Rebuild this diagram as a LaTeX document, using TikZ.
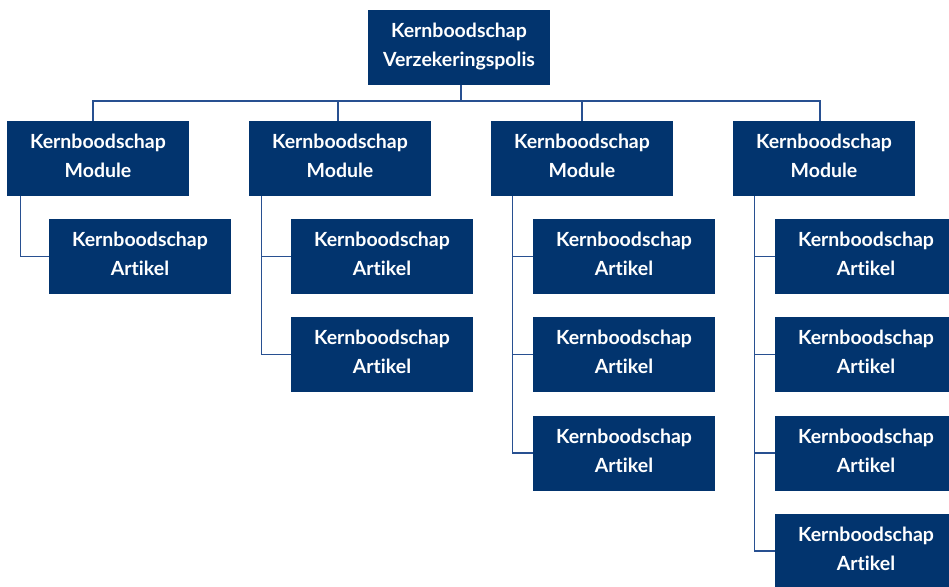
\documentclass[tikz,border=0pt]{standalone}
\usepackage{fontspec}
\setmainfont[Ligatures=NoCommon]{Lato}
\usetikzlibrary{calc}
\definecolor{boxblue}{RGB}{2,52,110}
\definecolor{lineblue}{RGB}{40,80,145}
\begin{document}
\begin{tikzpicture}[x=1pt,y=-1pt,
  box/.style={fill=boxblue,text=white,minimum width=182pt,minimum height=75pt,inner sep=0pt,
    align=center,font=\fontsize{19.5}{29}\selectfont\bfseries,
    execute at end node={\rule[-5pt]{0pt}{0pt}}},
  conn/.style={draw=lineblue,line width=1.1pt}]
\useasboundingbox (0,0) rectangle (949,586);
\node[box] (top) at (459,47.5) {Kernboodschap\\Verzekeringspolis};
\foreach \i/\x in {1/98,2/340,3/582,4/824}{
  \node[box] (m\i) at (\x,158.5) {Kernboodschap\\Module};
}
\node[box] (a11) at (140,256.5) {Kernboodschap\\Artikel};
\node[box] (a21) at (382,256.5) {Kernboodschap\\Artikel};
\node[box] (a22) at (382,354.5) {Kernboodschap\\Artikel};
\node[box] (a31) at (624,256.5) {Kernboodschap\\Artikel};
\node[box] (a32) at (624,354.5) {Kernboodschap\\Artikel};
\node[box] (a33) at (624,453) {Kernboodschap\\Artikel};
\node[box] (a41) at (866,256.5) {Kernboodschap\\Artikel};
\node[box] (a42) at (866,354.5) {Kernboodschap\\Artikel};
\node[box] (a43) at (866,453) {Kernboodschap\\Artikel};
\node[box] (a44) at (866,551) {Kernboodschap\\Artikel};
\coordinate (bus) at (461,101);
\draw[conn] ([xshift=2pt]top.south) -- (bus);
\draw[conn] ([xshift=-5pt]m1.north) |- (bus) -| ([xshift=-4pt]m4.north);
\draw[conn] ([xshift=-2pt]m2.north) -- ([xshift=-2pt]m2.north |- bus);
\draw[conn] (m3.north) -- (m3.north |- bus);
\coordinate (d1) at ($(m1.south west)+(14,0)$);
\coordinate (d2) at ($(m2.south west)+(13,0)$);
\coordinate (d3) at ($(m3.south west)+(22,0)$);
\coordinate (d4) at ($(m4.south west)+(22,0)$);
\draw[conn] (d1) |- (a11.west);
\draw[conn] (d2) |- (a22.west) (d2 |- a21.west) -- (a21.west);
\draw[conn] (d3) |- (a33.west) (d3 |- a31.west) -- (a31.west) (d3 |- a32.west) -- (a32.west);
\draw[conn] (d4) |- (a44.west) (d4 |- a41.west) -- (a41.west) (d4 |- a42.west) -- (a42.west) (d4 |- a43.west) -- (a43.west);
\end{tikzpicture}
\end{document}
